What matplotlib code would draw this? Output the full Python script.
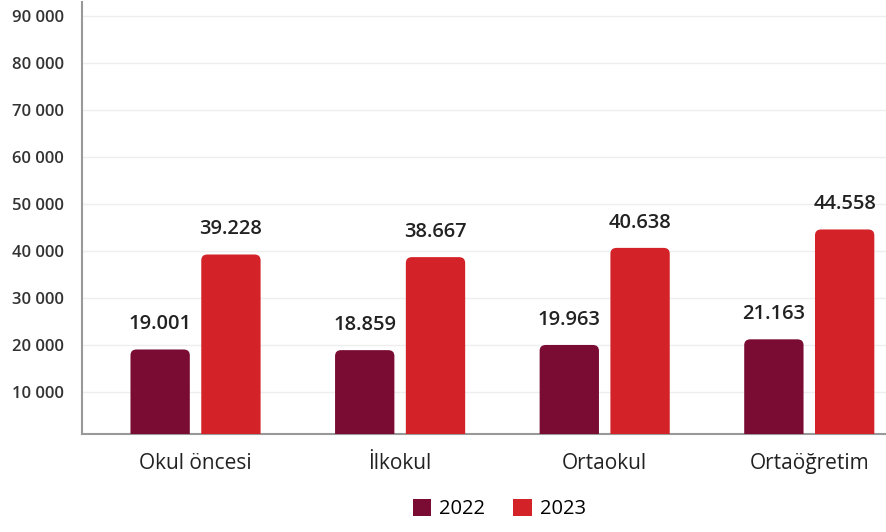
import numpy as np
import matplotlib.pyplot as plt
from matplotlib.patches import FancyBboxPatch, Patch

plt.rcParams['font.family'] = ['Open Sans', 'DejaVu Sans']

# Dane
kategorie = ['Okul öncesi', 'İlkokul', 'Ortaokul', 'Ortaöğretim']
lata = ['2022', '2023']
wartosci_2022 = [19001, 18859, 19963, 21163]
wartosci_2023 = [39228, 38667, 40638, 44558]
y_ticks = [10000, 20000, 30000, 40000, 50000, 60000, 70000, 80000, 90000]
kolory = ['#7A0B33', '#D32228']

fig = plt.figure(figsize=(8.87, 5.32), dpi=100)
ax = fig.add_axes([82 / 887, 98 / 532, 1 - 82 / 887, 432 / 532])

x = np.arange(len(kategorie))
szer = 0.29
przes = 0.173
r_x = 0.03
aspekt = 1250 / r_x

for seria, off, kol in [(wartosci_2022, -przes, kolory[0]), (wartosci_2023, przes, kolory[1])]:
    for xi, v in zip(x, seria):
        p = FancyBboxPatch((xi + off - szer / 2, -5000), szer, v + 5000,
                           boxstyle=f"round,pad=0,rounding_size={r_x}",
                           mutation_aspect=aspekt, facecolor=kol, edgecolor='none', zorder=3)
        ax.add_patch(p)
        ax.text(xi + off, v + 3200, f"{v:,}".replace(",", "."), ha='center', va='bottom',
                fontsize=14.5, fontweight='semibold', color='#222222')

ax.set_xlim(-0.555, 3.38)
ax.set_ylim(1000, 93000)
ax.set_yticks(y_ticks)
ax.set_yticklabels([f"{t:,}".replace(",", " ") for t in y_ticks])
ax.set_xticks(x)
ax.set_xticklabels(kategorie)
ax.tick_params(axis='y', length=0, pad=13, labelsize=12, labelcolor='#333333')
ax.tick_params(axis='x', length=0, pad=14, labelsize=15, labelcolor='#222222')
for lab in ax.get_yticklabels():
    lab.set_fontweight('semibold')
for lab in ax.get_xticklabels():
    lab.set_fontweight('medium')

ax.grid(axis='y', color='#eeeeee', linewidth=1, zorder=0)
ax.set_axisbelow(True)
for s in ['top', 'right']:
    ax.spines[s].set_visible(False)
for s in ['left', 'bottom']:
    ax.spines[s].set_color('#999999')
    ax.spines[s].set_linewidth(1.5)

uchwyty = [Patch(facecolor=k, edgecolor='none', label=l) for k, l in zip(kolory, lata)]
fig.legend(handles=uchwyty, loc='lower center', bbox_to_anchor=(0.563, -0.01), ncol=2,
           frameon=False, fontsize=14.5, handlelength=0.9, handleheight=0.9,
           handletextpad=0.4, columnspacing=1.4)

plt.savefig('out.png', dpi=100)
